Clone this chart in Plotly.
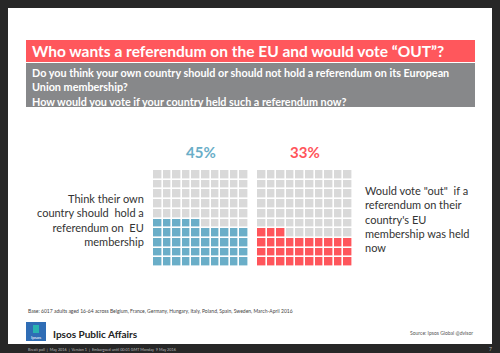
import plotly.graph_objects as go

W, H = 500, 353

# ---- data ----
percent_values = [45, 33]
percent_labels = ["45%", "33%"]
descriptions = [
    "Think their own<br>country should  hold a<br>referendum on  EU<br>membership",
    "Would vote \"out\"  if a<br>referendum on their<br>country's EU<br>membership was held<br>now",
]
grid_rows = 10
grid_cols = 10

title = "Who wants a referendum on the EU and would vote \u201cOUT\u201d?"
subtitle_lines = [
    "Do you think your own country should or should not hold a referendum on its European",
    "Union membership?",
    "How would you vote if your country held such a referendum now?",
]
base_text = ("Base: 6017 adults aged 16-64 across Belgium, France, Germany, Hungary, Italy, "
             "Poland, Spain, Sweden, March-April 2016")
source_text = "Source: Ipsos Global @dvisor"
brand_text = "Ipsos Public Affairs"
footer_text = "Brexit poll  |  May 2016  |  Version 1  |  Embargoed until 00:01 GMT Monday  9 May 2016"
page_no = "7"

# ---- style ----
FILL_COLORS = ["#6AAEC8", "#FF555B"]
EMPTY = "#D9D9D9"
RED = "#FF575C"
GREY_BAR = "#87888A"
FRAME = "#272727"
FONT = "Lato"


def px(x):
    return x / W


def py(y):
    return 1 - y / H


def waffle(n):
    z = []
    for r in range(grid_rows):
        row = []
        for c in range(grid_cols):
            row.append(1 if r * grid_cols + c < n else 0)
        z.append(row)
    return z


fig = go.Figure()

grid_x = [(153, 249), (257, 353)]
grid_y = (170, 267)

for i, v in enumerate(percent_values):
    suffix = "" if i == 0 else str(i + 1)
    fig.add_trace(go.Heatmap(
        z=waffle(v),
        x=list(range(grid_cols)),
        y=list(range(grid_rows)),
        colorscale=[[0, EMPTY], [1, FILL_COLORS[i]]],
        zmin=0, zmax=1, showscale=False, xgap=1.6, ygap=1.6,
        hoverinfo="skip",
        xaxis="x" + suffix, yaxis="y" + suffix,
    ))

layout_axes = {}
for i in range(2):
    suffix = "" if i == 0 else str(i + 1)
    layout_axes["xaxis" + suffix] = dict(
        domain=[px(grid_x[i][0]), px(grid_x[i][1])], range=[-0.5, grid_cols - 0.5],
        visible=False, fixedrange=True, anchor="y" + suffix)
    layout_axes["yaxis" + suffix] = dict(
        domain=[py(grid_y[1]), py(grid_y[0])], range=[-0.5, grid_rows - 0.5],
        visible=False, fixedrange=True, anchor="x" + suffix)

shapes = [
    # white slide
    dict(type="rect", xref="paper", yref="paper", x0=px(8), x1=px(492), y0=py(344), y1=py(8),
         fillcolor="white", line=dict(width=0), layer="below"),
    # red title bar
    dict(type="rect", xref="paper", yref="paper", x0=px(26), x1=px(475), y0=py(62), y1=py(40),
         fillcolor=RED, line=dict(width=0), layer="below"),
    # grey subtitle bar
    dict(type="rect", xref="paper", yref="paper", x0=px(26), x1=px(475), y0=py(107), y1=py(63),
         fillcolor=GREY_BAR, line=dict(width=0), layer="below"),
    # logo
    dict(type="rect", xref="paper", yref="paper", x0=px(26), x1=px(46), y0=py(341), y1=py(322),
         fillcolor="#2F6DB5", line=dict(width=0)),
    dict(type="rect", xref="paper", yref="paper", x0=px(33), x1=px(39), y0=py(333), y1=py(325),
         fillcolor="#2AB3B0", line=dict(width=0)),
]

ann = []
ann.append(dict(text="<b>" + title + "</b>", x=px(30), y=py(51), xanchor="left", yanchor="middle",
                font=dict(family=FONT, size=15.5, color="white")))
for j, line in enumerate(subtitle_lines):
    ann.append(dict(text="<b>" + line + "</b>", x=px(30), y=py(72 + j * 14.5), xanchor="left",
                    yanchor="middle", font=dict(family=FONT, size=10.8, color="white")))

pct_x = [201, 305]
for i, lab in enumerate(percent_labels):
    ann.append(dict(text="<b>" + lab + "</b>", x=px(pct_x[i]), y=py(152), xanchor="center",
                    yanchor="middle", font=dict(family=FONT, size=15, color=FILL_COLORS[i])))

ann.append(dict(text=descriptions[0], x=px(146), y=py(220), xanchor="right", yanchor="middle",
                align="right", font=dict(family=FONT, size=11, color="#333333")))
ann.append(dict(text=descriptions[1], x=px(363), y=py(219), xanchor="left", yanchor="middle",
                align="left", font=dict(family=FONT, size=11, color="#333333")))

ann.append(dict(text=base_text, x=px(26), y=py(311), xanchor="left", yanchor="middle",
                font=dict(family=FONT, size=5, color="#444444")))
ann.append(dict(text="Ipsos", x=px(36), y=py(337), xanchor="center", yanchor="middle",
                font=dict(family=FONT, size=4.5, color="white")))
ann.append(dict(text="<b>" + brand_text + "</b>", x=px(51), y=py(334), xanchor="left", yanchor="middle",
                font=dict(family=FONT, size=10, color="#222222")))
ann.append(dict(text=source_text, x=px(475), y=py(333), xanchor="right", yanchor="middle",
                font=dict(family=FONT, size=5, color="#555555")))
ann.append(dict(text=footer_text, x=px(26), y=py(349), xanchor="left", yanchor="middle",
                font=dict(family=FONT, size=3.8, color="#BBBBBB")))
ann.append(dict(text=page_no, x=px(490), y=py(349), xanchor="center", yanchor="middle",
                font=dict(family=FONT, size=5, color="#BBBBBB")))

for a in ann:
    a.update(xref="paper", yref="paper", showarrow=False)

fig.update_layout(
    width=W, height=H, margin=dict(l=0, r=0, t=0, b=0),
    paper_bgcolor=FRAME, plot_bgcolor="white",
    shapes=shapes, annotations=ann, showlegend=False,
    **layout_axes,
)

fig.write_html("out.html", config={"displayModeBar": False})
